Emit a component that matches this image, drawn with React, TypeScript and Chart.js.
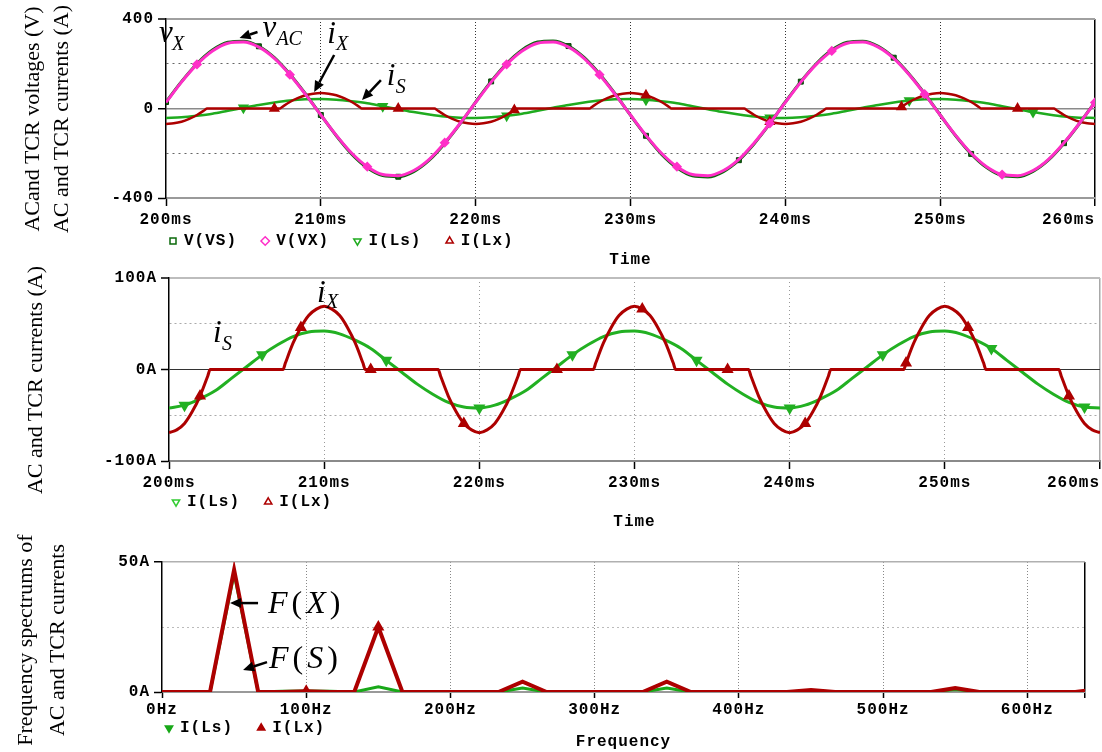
import React, { useEffect, useRef } from 'react';
import { Chart, registerables } from 'chart.js';

Chart.register(...registerables);

// ---------------- data ----------------
const timeMs = [200, 201, 202, 203, 204, 205, 206, 207, 208, 209, 210, 211, 212, 213, 214, 215, 216, 217, 218, 219,
  220, 221, 222, 223, 224, 225, 226, 227, 228, 229, 230, 231, 232, 233, 234, 235, 236, 237, 238, 239,
  240, 241, 242, 243, 244, 245, 246, 247, 248, 249, 250, 251, 252, 253, 254, 255, 256, 257, 258, 259, 260];

const vVS = [29, 120, 200, 261, 296, 301, 278, 227, 153, 66, -29, -122, -204, -265, -300, -305, -282, -231, -156, -68,
  29, 121, 201, 262, 297, 302, 279, 228, 154, 66, -30, -122, -204, -265, -301, -306, -282, -231, -156, -68,
  29, 120, 200, 261, 296, 301, 278, 227, 153, 66, -29, -122, -203, -264, -300, -305, -281, -230, -155, -67, 29];

const vVX = [27, 118, 197, 257, 292, 297, 274, 224, 151, 64, -29, -120, -200, -260, -295, -300, -277, -227, -153, -66,
  27, 118, 197, 257, 292, 297, 274, 224, 151, 64, -29, -120, -200, -260, -295, -300, -277, -227, -153, -66,
  27, 118, 197, 257, 292, 297, 274, 224, 151, 64, -29, -120, -200, -260, -295, -300, -277, -227, -153, -66, 27];

const iLs = [-42, -39, -32, -23, -10, 3, 16, 27, 36, 41, 42, 39, 32, 23, 10, -3, -16, -27, -36, -41,
  -42, -39, -32, -23, -10, 3, 16, 27, 36, 41, 42, 39, 32, 23, 10, -3, -16, -27, -36, -41,
  -42, -39, -32, -23, -10, 3, 16, 27, 36, 41, 42, 39, 32, 23, 10, -3, -16, -27, -36, -41, -42];

const timeLx = [
  200, 200.5, 201, 201.5, 202, 202.5, 202.65, 203, 204, 205, 206, 207, 207.35, 207.5, 208, 208.5, 209, 209.5,
  210, 210.5, 211, 211.5, 212, 212.5, 212.65, 213, 214, 215, 216, 217, 217.35, 217.5, 218, 218.5, 219, 219.5,
  220, 220.5, 221, 221.5, 222, 222.5, 222.65, 223, 224, 225, 226, 227, 227.35, 227.5, 228, 228.5, 229, 229.5,
  230, 230.5, 231, 231.5, 232, 232.5, 232.65, 233, 234, 235, 236, 237, 237.35, 237.5, 238, 238.5, 239, 239.5,
  240, 240.5, 241, 241.5, 242, 242.5, 242.65, 243, 244, 245, 246, 247, 247.35, 247.5, 248, 248.5, 249, 249.5,
  250, 250.5, 251, 251.5, 252, 252.5, 252.65, 253, 254, 255, 256, 257, 257.35, 257.5, 258, 258.5, 259, 259.5,
  260];

const iLx = [
  -69, -66, -59, -46, -29, -7, 0, 0, 0, 0, 0, 0, 0, 7, 29, 46, 59, 66,
  69, 66, 59, 46, 29, 7, 0, 0, 0, 0, 0, 0, 0, -7, -29, -46, -59, -66,
  -69, -66, -59, -46, -29, -7, 0, 0, 0, 0, 0, 0, 0, 7, 29, 46, 59, 66,
  69, 66, 59, 46, 29, 7, 0, 0, 0, 0, 0, 0, 0, -7, -29, -46, -59, -66,
  -69, -66, -59, -46, -29, -7, 0, 0, 0, 0, 0, 0, 0, 7, 29, 46, 59, 66,
  69, 66, 59, 46, 29, 7, 0, 0, 0, 0, 0, 0, 0, -7, -29, -46, -59, -66,
  -69];

const freqHz = [0, 16.7, 33.3, 50, 66.7, 83.3, 100, 116.7, 133.3, 150, 166.7, 183.3, 200, 216.7, 233.3, 250,
  266.7, 283.3, 300, 316.7, 333.3, 350, 366.7, 383.3, 400, 416.7, 433.3, 450, 466.7, 483.3, 500, 516.7,
  533.3, 550, 566.7, 583.3, 600, 616.7, 633.3, 650];
const specLx = [0, 0, 0, 47, 0, 0, 0.3, 0, 0, 25, 0, 0, 0, 0, 0, 4, 0, 0, 0, 0, 0, 4, 0, 0, 0, 0, 0, 0.8, 0, 0,
  0, 0, 0, 1.5, 0, 0, 0, 0, 0, 1.2];
const specLs = [0, 0, 0, 45.5, 0, 0.3, 0.4, 0.3, 0, 2, 0, 0, 0, 0, 0, 1.5, 0, 0, 0, 0, 0, 1.5, 0, 0, 0, 0, 0, 0.6, 0, 0,
  0, 0, 0, 1, 0, 0, 0, 0, 0, 0.4];

// marker positions (x values of samples carrying a symbol)
const markTopVS = [200, 206, 210, 215, 221, 226, 231, 237, 241, 247, 252, 258];
const markTopVX = [202, 208, 213, 218, 222, 228, 233, 239, 243, 249, 254, 260];
const markTopLs = [205, 214, 222, 231, 239, 248, 256];
const markTopLx = [207, 215, 222.5, 231, 239, 247.5, 255];
const markMidLs = [201, 206, 214, 220, 226, 234, 240, 246, 253, 259];
const markMidLx = [202, 208.5, 213, 219, 225, 230.5, 236, 241, 247.5, 251.5, 258];
const markSpecLx = [100, 150];

const legendTop = ['V(VS)', 'V(VX)', 'I(Ls)', 'I(Lx)'];
const legendCur = ['I(Ls)', 'I(Lx)'];

// ---------------- styles ----------------
const C_VS = '#0b6a0b';
const C_VX = '#ff2ec8';
const C_LS = '#1fab1f';
const C_LX = '#ad0000';
const MONO = '"Liberation Mono", "DejaVu Sans Mono", monospace';
const SERIF = '"Liberation Serif", "Times New Roman", serif';
const tickFont = { family: MONO, size: 16, weight: 'bold' as const };
const NONE = 'rgba(0,0,0,0)';

const pts = (xs: number[], ys: number[]) => xs.map((x, i) => ({ x, y: ys[i] }));
const mk = (marks: number[], r: number) => (c: any) => (c.raw && marks.includes(c.raw.x) ? r : 0);

const spacingPlugin = {
  id: 'spacing',
  beforeLayout(chart: any) { chart.ctx.letterSpacing = '1px'; },
  beforeDraw(chart: any) { chart.ctx.letterSpacing = '1px'; },
};

type Piece = { t: string; it: boolean; size: number };
type Label = { x: number; y: number; parts: Piece[]; gap?: number };
type Arrow = { x1: number; y1: number; x2: number; y2: number };

function annotPlugin(labels: Label[], arrows: Arrow[]) {
  return {
    id: 'annot',
    afterDraw(chart: any) {
      const { ctx } = chart;
      const xs = chart.scales.x;
      const ys = chart.scales.y;
      ctx.save();
      ctx.letterSpacing = '0px';
      ctx.fillStyle = '#000';
      ctx.strokeStyle = '#000';
      ctx.textAlign = 'left';
      ctx.textBaseline = 'alphabetic';
      labels.forEach((l) => {
        let px = xs.getPixelForValue(l.x);
        const py = ys.getPixelForValue(l.y);
        l.parts.forEach((p) => {
          ctx.font = `${p.it ? 'italic ' : ''}${p.size}px ${SERIF}`;
          ctx.fillText(p.t, px, py);
          px += ctx.measureText(p.t).width + (l.gap || 0);
        });
      });
      arrows.forEach((a) => {
        const x1 = xs.getPixelForValue(a.x1), y1 = ys.getPixelForValue(a.y1);
        const x2 = xs.getPixelForValue(a.x2), y2 = ys.getPixelForValue(a.y2);
        const ang = Math.atan2(y2 - y1, x2 - x1);
        const hl = 11, hw = 5;
        const bx = x2 - hl * Math.cos(ang), by = y2 - hl * Math.sin(ang);
        ctx.lineWidth = 2.5;
        ctx.beginPath(); ctx.moveTo(x1, y1); ctx.lineTo(bx, by); ctx.stroke();
        ctx.beginPath();
        ctx.moveTo(x2, y2);
        ctx.lineTo(bx + hw * Math.sin(ang), by - hw * Math.cos(ang));
        ctx.lineTo(bx - hw * Math.sin(ang), by + hw * Math.cos(ang));
        ctx.closePath(); ctx.fill();
      });
      ctx.restore();
    },
  };
}

type LegendSpec = { text: string; style: string; rot: number; stroke: string; fill: string };
const legendOpts = (items: LegendSpec[]) => ({
  display: true,
  position: 'bottom' as const,
  align: 'start' as const,
  fullSize: false,
  labels: {
    usePointStyle: true, boxWidth: 6, boxHeight: 6, padding: 4, color: '#000', font: tickFont,
    generateLabels: () => items.map((l, i) => ({
      text: l.text + '  ', fillStyle: l.fill, strokeStyle: l.stroke, lineWidth: 1.5,
      pointStyle: l.style, rotation: l.rot, hidden: false, datasetIndex: i, fontColor: '#000',
    })),
  },
});
const titleOpts = (text: string, pt: number, pb: number) => ({
  display: true, text, position: 'bottom' as const, fullSize: false, color: '#000',
  font: tickFont, padding: { top: pt, bottom: pb },
});

// ---------------- configs ----------------
function buildTop(canvas: HTMLCanvasElement) {
  return new Chart(canvas, {
    type: 'line',
    data: {
      datasets: [
        { label: legendTop[0], data: pts(timeMs, vVS), borderColor: C_VS, borderWidth: 3, pointStyle: 'rect',
          pointRadius: mk(markTopVS, 3.5), pointBackgroundColor: C_VS, pointBorderColor: '#064006', pointBorderWidth: 1,
          cubicInterpolationMode: 'monotone', order: 1 },
        { label: legendTop[1], data: pts(timeMs, vVX), borderColor: C_VX, borderWidth: 3, pointStyle: 'rectRot',
          pointRadius: mk(markTopVX, 3), pointBackgroundColor: C_VX, pointBorderColor: C_VX,
          cubicInterpolationMode: 'monotone', order: 0 },
        { label: legendTop[2], data: pts(timeMs, iLs), borderColor: C_LS, borderWidth: 2.5, pointStyle: 'triangle',
          pointRotation: 180, pointRadius: mk(markTopLs, 4), pointBackgroundColor: C_LS, pointBorderColor: C_LS,
          cubicInterpolationMode: 'monotone', order: 3 },
        { label: legendTop[3], data: pts(timeLx, iLx), borderColor: C_LX, borderWidth: 2.5, pointStyle: 'triangle',
          pointRadius: mk(markTopLx, 4), pointBackgroundColor: C_LX, pointBorderColor: C_LX,
          cubicInterpolationMode: 'monotone', order: 2 },
      ],
    },
    options: {
      animation: false, responsive: false, events: [],
      layout: { padding: { left: 0, right: 2, top: 19, bottom: 0 } },
      scales: {
        x: {
          type: 'linear', min: 200, max: 260,
          ticks: { stepSize: 10, autoSkip: false, maxRotation: 0, padding: 4, color: '#000', font: tickFont,
            callback: (v: any) => (v === 260 ? '260ms     ' : v + 'ms') },
          grid: {
            color: (c: any) => (!c.tick ? '#333' : c.tick.value === 200 ? NONE : c.tick.value === 260 ? '#000' : '#333'),
            lineWidth: (c: any) => (c.tick && c.tick.value === 260 ? 1.5 : 1),
            tickColor: '#000', tickLength: 8, tickWidth: 1.5,
          },
          border: { display: true, color: '#9a9a9a', width: 2, dash: (c: any) => (c.tick && c.tick.value !== 260 ? [1, 2] : []) },
          afterFit: (s: any) => { s.height = 31; s.paddingLeft = 0; s.paddingRight = 0; },
        },
        y: {
          type: 'linear', min: -400, max: 400,
          ticks: { stepSize: 200, padding: 4, color: '#000', font: tickFont,
            callback: (v: any) => (v % 400 === 0 ? String(v) : '') },
          grid: {
            color: (c: any) => { const v = c.tick ? c.tick.value : null; return v === 400 ? '#a0a0a0' : v === 0 ? '#8a8a8a' : v === -400 ? NONE : '#666'; },
            lineWidth: (c: any) => { const v = c.tick ? c.tick.value : null; return v === 400 ? 2 : v === 0 ? 1.5 : 1; },
            tickColor: (c: any) => (c.tick && c.tick.value % 400 === 0 ? '#000' : NONE), tickLength: 8, tickWidth: 1.5,
          },
          border: { color: '#000', width: 1.5, dash: (c: any) => (c.tick && c.tick.value % 400 !== 0 ? [2, 4] : []) },
          afterFit: (s: any) => { s.width = 166; s.paddingTop = 0; s.paddingBottom = 0; },
        },
      },
      plugins: {
        legend: legendOpts([
          { text: legendTop[0], style: 'rect', rot: 0, stroke: C_VS, fill: '#fff' },
          { text: legendTop[1], style: 'rectRot', rot: 0, stroke: C_VX, fill: '#fff' },
          { text: legendTop[2], style: 'triangle', rot: 180, stroke: C_LS, fill: '#fff' },
          { text: legendTop[3], style: 'triangle', rot: 0, stroke: C_LX, fill: '#fff' },
        ]),
        title: titleOpts('Time', -8.2, 0),
        tooltip: { enabled: false },
      },
    } as any,
    plugins: [spacingPlugin, annotPlugin(
      [
        { x: 199.55, y: 297, parts: [{ t: 'v', it: true, size: 31 }] },
        { x: 200.39, y: 261, parts: [{ t: 'X', it: true, size: 20 }] },
        { x: 206.23, y: 320, parts: [{ t: 'v', it: true, size: 31 }] },
        { x: 207.13, y: 284, parts: [{ t: 'AC', it: true, size: 20 }] },
        { x: 210.41, y: 293, parts: [{ t: 'i', it: true, size: 31 }] },
        { x: 210.98, y: 261, parts: [{ t: 'X', it: true, size: 20 }] },
        { x: 214.26, y: 105, parts: [{ t: 'i', it: true, size: 31 }] },
        { x: 214.84, y: 69, parts: [{ t: 'S', it: true, size: 20 }] },
      ],
      [
        { x1: 205.91, y1: 342, x2: 204.75, y2: 315 },
        { x1: 210.86, y1: 239, x2: 209.57, y2: 74 },
        { x1: 213.88, y1: 127, x2: 212.66, y2: 38 },
      ],
    )],
  });
}

function buildMid(canvas: HTMLCanvasElement) {
  return new Chart(canvas, {
    type: 'line',
    data: {
      datasets: [
        { label: legendCur[0], data: pts(timeMs, iLs), borderColor: '#22b022', borderWidth: 3, pointStyle: 'triangle',
          pointRotation: 180, pointRadius: mk(markMidLs, 4), pointBackgroundColor: '#22b022', pointBorderColor: '#22b022',
          cubicInterpolationMode: 'monotone', order: 1 },
        { label: legendCur[1], data: pts(timeLx, iLx), borderColor: C_LX, borderWidth: 3, pointStyle: 'triangle',
          pointRadius: mk(markMidLx, 4), pointBackgroundColor: C_LX, pointBorderColor: C_LX,
          cubicInterpolationMode: 'monotone', order: 0 },
      ],
    },
    options: {
      animation: false, responsive: false, events: [],
      layout: { padding: { left: 0, right: 2, top: 8, bottom: 0 } },
      scales: {
        x: {
          type: 'linear', min: 200, max: 260,
          ticks: { stepSize: 10, autoSkip: false, maxRotation: 0, padding: 4, color: '#000', font: tickFont,
            callback: (v: any) => (v === 260 ? '260ms     ' : v + 'ms') },
          grid: {
            color: (c: any) => (!c.tick ? '#999' : c.tick.value === 200 ? NONE : c.tick.value === 260 ? '#a8a8a8' : '#999'),
            lineWidth: (c: any) => (c.tick && c.tick.value === 260 ? 1.5 : 1),
            tickColor: '#000', tickLength: 8, tickWidth: 1.5,
          },
          border: { display: true, color: '#8a8a8a', width: 2, dash: (c: any) => (c.tick && c.tick.value !== 260 ? [1, 3] : []) },
          afterFit: (s: any) => { s.height = 29; s.paddingLeft = 0; s.paddingRight = 0; },
        },
        y: {
          type: 'linear', min: -100, max: 100,
          ticks: { stepSize: 50, padding: 4, color: '#000', font: tickFont,
            callback: (v: any) => (v % 100 === 0 ? v + 'A' : '') },
          grid: {
            color: (c: any) => { const v = c.tick ? c.tick.value : null; return v === 100 ? '#bdbdbd' : v === 0 ? '#333' : v === -100 ? NONE : '#aaa'; },
            lineWidth: (c: any) => { const v = c.tick ? c.tick.value : null; return v === 100 ? 2 : 1; },
            tickColor: (c: any) => (c.tick && c.tick.value % 100 === 0 ? '#000' : NONE), tickLength: 8, tickWidth: 1.5,
          },
          border: { color: '#000', width: 1.5, dash: (c: any) => (c.tick && c.tick.value % 100 !== 0 ? [2, 3] : []) },
          afterFit: (s: any) => { s.width = 169; s.paddingTop = 0; s.paddingBottom = 0; },
        },
      },
      plugins: {
        legend: legendOpts([
          { text: legendCur[0], style: 'triangle', rot: 180, stroke: '#33cc33', fill: '#fff' },
          { text: legendCur[1], style: 'triangle', rot: 0, stroke: C_LX, fill: '#fff' },
        ]),
        title: titleOpts('Time', -7.6, -1.6),
        tooltip: { enabled: false },
      },
    } as any,
    plugins: [spacingPlugin, annotPlugin(
      [
        { x: 209.54, y: 74, parts: [{ t: 'i', it: true, size: 31 }] },
        { x: 210.12, y: 67, parts: [{ t: 'X', it: true, size: 20 }] },
        { x: 202.84, y: 30, parts: [{ t: 'i', it: true, size: 31 }] },
        { x: 203.42, y: 21, parts: [{ t: 'S', it: true, size: 20 }] },
      ],
      [],
    )],
  });
}

function buildBottom(canvas: HTMLCanvasElement) {
  return new Chart(canvas, {
    type: 'line',
    data: {
      datasets: [
        { label: legendCur[0], data: pts(freqHz, specLs), borderColor: '#18a818', borderWidth: 3, pointRadius: 0,
          order: 1 },
        { label: legendCur[1], data: pts(freqHz, specLx), borderColor: C_LX, borderWidth: 4, pointStyle: 'triangle',
          pointRadius: mk(markSpecLx, 3), pointBackgroundColor: C_LX, pointBorderColor: C_LX, order: 0 },
      ],
    },
    options: {
      animation: false, responsive: false, events: [],
      layout: { padding: { left: 0, right: 17, top: 32, bottom: 0 } },
      scales: {
        x: {
          type: 'linear', min: 0, max: 640,
          ticks: { stepSize: 100, autoSkip: false, maxRotation: 0, padding: 2, color: '#000', font: tickFont,
            callback: (v: any) => (v <= 600 ? v + 'Hz' : '') },
          grid: {
            color: (c: any) => (!c.tick ? '#888' : c.tick.value === 0 ? NONE : c.tick.value === 640 ? '#000' : '#888'),
            lineWidth: (c: any) => (c.tick && c.tick.value === 640 ? 1.5 : 1),
            tickColor: '#000', tickLength: 6, tickWidth: 1.5,
          },
          border: { display: true, color: '#999', width: 2, dash: (c: any) => (c.tick && c.tick.value !== 640 ? [1, 2] : []) },
          afterFit: (s: any) => { s.height = 24; s.paddingLeft = 0; s.paddingRight = 0; },
        },
        y: {
          type: 'linear', min: 0, max: 50,
          ticks: { stepSize: 25, padding: 4, color: '#000', font: tickFont,
            callback: (v: any) => (v % 50 === 0 ? v + 'A' : '') },
          grid: {
            color: (c: any) => { const v = c.tick ? c.tick.value : null; return v === 50 ? '#b0b0b0' : v === 0 ? NONE : '#777'; },
            lineWidth: (c: any) => (c.tick && c.tick.value === 50 ? 1.5 : 1),
            tickColor: (c: any) => (c.tick && c.tick.value % 50 === 0 ? '#000' : NONE), tickLength: 8, tickWidth: 1.5,
          },
          border: { color: '#000', width: 1.5, dash: (c: any) => (c.tick && c.tick.value % 50 !== 0 ? [1, 4] : []) },
          afterFit: (s: any) => { s.width = 162; s.paddingTop = 0; s.paddingBottom = 0; },
        },
      },
      plugins: {
        legend: legendOpts([
          { text: legendCur[0], style: 'triangle', rot: 180, stroke: '#18a818', fill: '#18a818' },
          { text: legendCur[1], style: 'triangle', rot: 0, stroke: C_LX, fill: C_LX },
        ]),
        title: titleOpts('Frequency', -13.2, 0),
        tooltip: { enabled: false },
      },
    } as any,
    plugins: [spacingPlugin, annotPlugin(
      [
        { x: 73.5, y: 30.4, gap: 4, parts: [{ t: 'F', it: true, size: 32 }, { t: '(', it: false, size: 32 }, { t: 'X', it: true, size: 32 }, { t: ')', it: false, size: 32 }] },
        { x: 74.2, y: 9.2, gap: 4, parts: [{ t: 'F', it: true, size: 32 }, { t: '(', it: false, size: 32 }, { t: 'S', it: true, size: 32 }, { t: ')', it: false, size: 32 }] },
      ],
      [
        { x1: 66.6, y1: 34.2, x2: 47.2, y2: 34.2 },
        { x1: 72.8, y1: 11.5, x2: 56.2, y2: 8.5 },
      ],
    )],
  });
}

// ---------------- components ----------------
function ChartCanvas({ top, height, build }: { top: number; height: number; build: (c: HTMLCanvasElement) => Chart }) {
  const ref = useRef<HTMLCanvasElement>(null);
  useEffect(() => {
    if (!ref.current) return undefined;
    const chart = build(ref.current);
    return () => chart.destroy();
  }, []);
  return (
    <canvas ref={ref} width={1102} height={height}
      style={{ position: 'absolute', left: 0, top, width: 1102, height, display: 'block' }} />
  );
}

function AxisTitle({ cx, cy, lines, lh }: { cx: number; cy: number; lines: string[]; lh: number }) {
  return (
    <div style={{
      position: 'absolute', left: cx, top: cy, transform: 'translate(-50%, -50%) rotate(-90deg)',
      whiteSpace: 'nowrap', textAlign: 'center', fontFamily: SERIF, fontSize: 22, lineHeight: `${lh}px`, color: '#000',
    }}>
      {lines.map((l, i) => <div key={i}>{l}</div>)}
    </div>
  );
}

export default function App() {
  return (
    <div style={{ position: 'absolute', left: 0, top: 0, width: 1102, height: 752, background: '#fff', overflow: 'hidden' }}>
      <ChartCanvas top={0} height={270} build={buildTop} />
      <ChartCanvas top={270} height={260} build={buildMid} />
      <ChartCanvas top={530} height={222} build={buildBottom} />
      <AxisTitle cx={46} cy={119} lh={29} lines={['ACand TCR voltages (V)', 'AC and TCR currents (A)']} />
      <AxisTitle cx={34} cy={380} lh={29} lines={['AC and TCR currents (A)']} />
      <AxisTitle cx={41} cy={640} lh={32} lines={['Frequency spectrums of', 'AC and TCR currents']} />
    </div>
  );
}
